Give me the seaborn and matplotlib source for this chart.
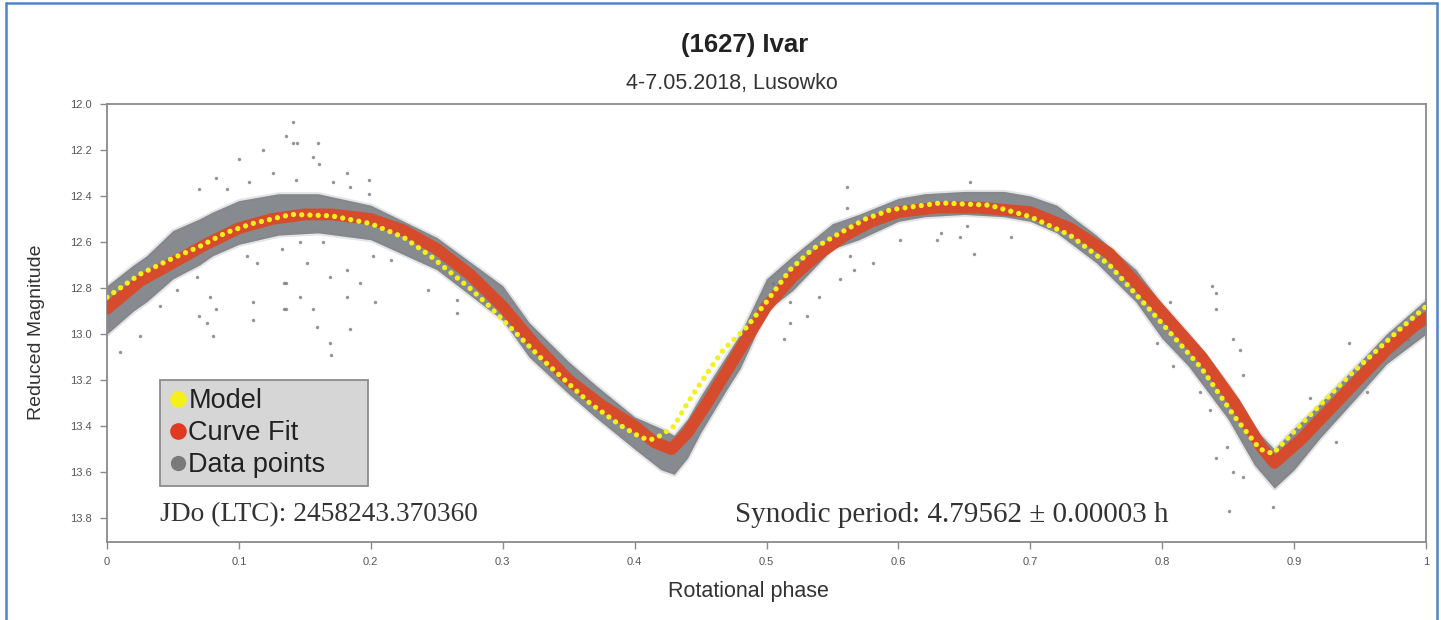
import numpy as np
import pandas as pd
import matplotlib
matplotlib.use("Agg")
import matplotlib.pyplot as plt
from matplotlib.lines import Line2D
import seaborn as sns

# ---------------- data ----------------
fit_phase = [0.00, 0.025, 0.05, 0.075, 0.10, 0.125, 0.15, 0.17, 0.20, 0.225, 0.25, 0.275,
             0.30, 0.325, 0.35, 0.375, 0.40, 0.415, 0.428, 0.44, 0.455, 0.47, 0.485, 0.50,
             0.52, 0.54, 0.56, 0.58, 0.60, 0.63, 0.66, 0.70, 0.73, 0.76, 0.79, 0.81, 0.83,
             0.855, 0.875, 0.885, 0.905, 0.925, 0.945, 0.97, 0.99, 1.00]
fit_mag = [12.89, 12.77, 12.69, 12.61, 12.54, 12.50, 12.48, 12.48, 12.50, 12.55, 12.63, 12.74,
           12.88, 13.05, 13.20, 13.31, 13.40, 13.47, 13.50, 13.43, 13.30, 13.16, 13.02, 12.88,
           12.75, 12.65, 12.57, 12.51, 12.47, 12.45, 12.45, 12.47, 12.54, 12.65, 12.84, 12.97, 13.10,
           13.30, 13.49, 13.56, 13.46, 13.34, 13.22, 13.07, 12.97, 12.93]

model_phase = [0.00, 0.025, 0.05, 0.07, 0.09, 0.11, 0.14, 0.17, 0.20, 0.225, 0.245, 0.275,
               0.29, 0.33, 0.366, 0.39, 0.405, 0.412, 0.42, 0.43, 0.44, 0.455, 0.467, 0.485,
               0.50, 0.518, 0.535, 0.556, 0.575, 0.594, 0.632, 0.669, 0.70, 0.73, 0.76, 0.79,
               0.81, 0.83, 0.855, 0.874, 0.884, 0.904, 0.942, 0.98, 1.00]
model_mag = [12.84, 12.74, 12.67, 12.62, 12.56, 12.52, 12.48, 12.486, 12.52, 12.58, 12.66, 12.80,
             12.88, 13.11, 13.30, 13.40, 13.45, 13.46, 13.44, 13.40, 13.30, 13.17, 13.07, 12.97,
             12.86, 12.72, 12.63, 12.56, 12.50, 12.46, 12.43, 12.44, 12.49, 12.57, 12.70, 12.89,
             13.02, 13.15, 13.36, 13.50, 13.52, 13.40, 13.18, 12.98, 12.88]

# dense band of data points: bright / faint envelope
band_phase = [0.00, 0.02, 0.03, 0.05, 0.07, 0.08, 0.10, 0.13, 0.16, 0.20, 0.25, 0.30, 0.32,
              0.35, 0.37, 0.40, 0.42, 0.43, 0.44, 0.45, 0.47, 0.48, 0.50, 0.52, 0.55, 0.57,
              0.60, 0.62, 0.65, 0.68, 0.70, 0.72, 0.75, 0.78, 0.80, 0.82, 0.85, 0.87, 0.885,
              0.90, 0.92, 0.95, 0.97, 1.00]
band_upper = [12.79, 12.70, 12.66, 12.55, 12.50, 12.47, 12.42, 12.39, 12.39, 12.44, 12.58, 12.79,
              12.95, 13.12, 13.22, 13.36, 13.41, 13.44, 13.37, 13.27, 13.09, 13.00, 12.76, 12.66,
              12.52, 12.48, 12.41, 12.39, 12.38, 12.38, 12.40, 12.44, 12.57, 12.72, 12.87, 13.00,
              13.22, 13.41, 13.50, 13.41, 13.30, 13.12, 13.00, 12.85]
band_lower = [13.00, 12.90, 12.86, 12.76, 12.70, 12.66, 12.61, 12.57, 12.56, 12.59, 12.72, 12.94,
              13.10, 13.26, 13.36, 13.50, 13.59, 13.61, 13.54, 13.43, 13.24, 13.15, 12.90, 12.81,
              12.63, 12.59, 12.51, 12.49, 12.48, 12.49, 12.51, 12.56, 12.69, 12.86, 13.02, 13.14,
              13.37, 13.57, 13.67, 13.59, 13.45, 13.26, 13.13, 13.00]

# scattered data points away from the band
out_phase = [0.010, 0.025, 0.040, 0.053, 0.068, 0.070, 0.078, 0.083, 0.076, 0.080, 0.111, 0.111,
             0.106, 0.134, 0.134, 0.114, 0.083, 0.100, 0.118, 0.136, 0.144, 0.091, 0.108, 0.126,
             0.070, 0.141, 0.141, 0.160, 0.156, 0.161, 0.182, 0.199, 0.143, 0.171, 0.184, 0.199,
             0.136, 0.136, 0.146, 0.152, 0.156, 0.159, 0.169, 0.169, 0.170, 0.182, 0.184, 0.182,
             0.192, 0.203, 0.202, 0.215, 0.243, 0.265, 0.265, 0.164, 0.146, 0.133,
             0.518, 0.531, 0.540, 0.556, 0.563, 0.566, 0.581, 0.601, 0.629, 0.647, 0.657, 0.685,
             0.518, 0.513, 0.652, 0.632, 0.561, 0.561, 0.654, 0.505,
             0.841, 0.838, 0.841, 0.859, 0.854, 0.861, 0.836, 0.849, 0.841, 0.854, 0.851, 0.861,
             0.884, 0.806, 0.796, 0.808, 0.829, 0.942, 0.955, 0.932, 0.912, 0.986]
out_mag = [13.08, 13.01, 12.88, 12.81, 12.75, 12.92, 12.84, 12.89, 12.95, 13.01, 12.86, 12.94,
           12.66, 12.78, 12.89, 12.69, 12.32, 12.24, 12.20, 12.14, 12.17, 12.37, 12.34, 12.30,
           12.37, 12.08, 12.17, 12.17, 12.23, 12.26, 12.30, 12.33, 12.33, 12.34, 12.36, 12.39,
           12.78, 12.89, 12.84, 12.69, 12.89, 12.97, 12.75, 13.04, 13.09, 12.72, 12.98, 12.84,
           12.78, 12.86, 12.66, 12.68, 12.81, 12.85, 12.91, 12.60, 12.60, 12.63,
           12.86, 12.92, 12.84, 12.76, 12.66, 12.72, 12.69, 12.59, 12.59, 12.58, 12.65, 12.58,
           12.95, 13.02, 12.53, 12.56, 12.45, 12.36, 12.34, 12.78,
           12.82, 12.79, 12.89, 13.07, 13.02, 13.18, 13.33, 13.49, 13.54, 13.60, 13.77, 13.62,
           13.75, 12.86, 13.04, 13.14, 13.25, 13.04, 13.25, 13.47, 13.28, 13.02]

x_ticks = [0, 0.1, 0.2, 0.3, 0.4, 0.5, 0.6, 0.7, 0.8, 0.9, 1.0]
x_ticklabels = ["0", "0.1", "0.2", "0.3", "0.4", "0.5", "0.6", "0.7", "0.8", "0.9", "1"]
y_ticks = [12.0, 12.2, 12.4, 12.6, 12.8, 13.0, 13.2, 13.4, 13.6, 13.8]
y_ticklabels = ["12.0", "12.2", "12.4", "12.6", "12.8", "13.0", "13.2", "13.4", "13.6", "13.8"]

title = "(1627) Ivar"
subtitle = "4-7.05.2018, Lusowko"
jd_text = "JDo (LTC): 2458243.370360"
period_text = "Synodic period: 4.79562 \u00b1 0.00003 h"
legend_labels = ["Model", "Curve Fit", "Data points"]

# ---------------- styling ----------------
sns.set_theme(style="white")
plt.rcParams["font.family"] = ["Liberation Sans", "DejaVu Sans"]

C_MODEL = "#f4f01c"
C_FIT = "#d64b2b"
C_DATA = "#777b80"
C_AXIS = "#8a8a8a"

W, H = 1441, 620
fig = plt.figure(figsize=(W / 100, H / 100), dpi=100)
fig.patch.set_facecolor("white")

L, R, T, B = 107, 1426, 104, 542
ax = fig.add_axes([L / W, 1 - B / H, (R - L) / W, (B - T) / H])

fit_df = pd.DataFrame({"phase": fit_phase, "mag": fit_mag})
model_df = pd.DataFrame({"phase": model_phase, "mag": model_mag})
out_df = pd.DataFrame({"phase": out_phase, "mag": out_mag})

# data points: soft halo + dense core + scattered points
ax.fill_between(band_phase, band_upper, band_lower, facecolor=C_DATA, edgecolor=C_DATA,
                alpha=0.2, lw=3, zorder=1)
ax.fill_between(band_phase, band_upper, band_lower, color=C_DATA, alpha=0.85, lw=0, zorder=1)
sns.scatterplot(data=out_df, x="phase", y="mag", ax=ax, color=C_DATA, s=6, linewidth=0,
                alpha=0.8, zorder=2, legend=False)

# curve fit
sns.lineplot(data=fit_df, x="phase", y="mag", ax=ax, sort=False, estimator=None,
             color=C_FIT, lw=8.5, zorder=3, legend=False)
ax.lines[-1].set_solid_joinstyle("round")
# model as dotted yellow
sns.lineplot(data=model_df, x="phase", y="mag", ax=ax, sort=False, estimator=None,
             color=C_MODEL, lw=3.8, zorder=4, legend=False)
ax.lines[-1].set_linestyle((0, (0.01, 1.55)))
ax.lines[-1].set_dash_capstyle("round")

ax.set_xlim(0, 1)
ax.set_ylim(13.904, 12.0)
ax.set_xticks(x_ticks)
ax.set_xticklabels(x_ticklabels)
ax.set_yticks(y_ticks)
ax.set_yticklabels(y_ticklabels)
ax.tick_params(axis="both", which="both", length=5, width=1, color=C_AXIS,
               labelsize=8, labelcolor="#555555", direction="out", pad=6)
ax.tick_params(bottom=True, left=True)
for s in ax.spines.values():
    s.set_color(C_AXIS)
    s.set_linewidth(1.3)
    s.set_visible(True)
ax.set_xlabel("")
ax.set_ylabel("")

# labels
fig.text(745 / W, 1 - 45 / H, title, ha="center", va="center", fontsize=18.5,
         fontweight="bold", color="#222222")
fig.text(732 / W, 1 - 83 / H, subtitle, ha="center", va="center", fontsize=15.5,
         color="#333333")
fig.text(748 / W, 1 - 592 / H, "Rotational phase", ha="center", va="center", fontsize=15.5,
         color="#333333")
fig.text(37 / W, 1 - 332 / H, "Reduced Magnitude", ha="center", va="center", fontsize=14,
         rotation=90, color="#333333")

ax.text((160 - L) / (R - L), 1 - (515 - T) / (B - T), jd_text, transform=ax.transAxes,
        ha="left", va="center", fontsize=19.7, family=["Liberation Serif", "DejaVu Serif"],
        color="#333333")
ax.text((735 - L) / (R - L), 1 - (515 - T) / (B - T), period_text, transform=ax.transAxes,
        ha="left", va="center", fontsize=21, family=["Liberation Serif", "DejaVu Serif"],
        color="#333333")

# legend
handles = [Line2D([], [], marker="o", ls="none", markersize=12, markerfacecolor=C_MODEL,
                  markeredgecolor="none"),
           Line2D([], [], marker="o", ls="none", markersize=12, markerfacecolor="#e03a22",
                  markeredgecolor="none"),
           Line2D([], [], marker="o", ls="none", markersize=11, markerfacecolor="#7a7a7a",
                  markeredgecolor="none")]
lx0 = (160 - L) / (R - L)
lx1 = (368 - L) / (R - L)
ly0 = 1 - (484 - T) / (B - T)
ly1 = 1 - (380 - T) / (B - T)
leg = ax.legend(handles, legend_labels, loc="upper left",
                bbox_to_anchor=(lx0, ly0, lx1 - lx0, ly1 - ly0), mode="expand",
                borderaxespad=0, frameon=True, fancybox=False, fontsize=19.5,
                handlelength=0.7, handletextpad=0.05, labelspacing=0.22,
                borderpad=0.3, facecolor="#d6d6d6", edgecolor="#8c8c8c", framealpha=1)
leg.get_frame().set_linewidth(1.3)
for t in leg.get_texts():
    t.set_color("#222222")
leg.set_zorder(10)

# blue screenshot frame
blue = "#4a86c8"
fig.add_artist(Line2D([6 / W, 6 / W], [0, 1 - 3 / H], transform=fig.transFigure, color=blue, lw=1.8))
fig.add_artist(Line2D([6 / W, 1437 / W], [1 - 3 / H, 1 - 3 / H], transform=fig.transFigure, color=blue, lw=1.8))
fig.add_artist(Line2D([1437 / W, 1437 / W], [0, 1 - 3 / H], transform=fig.transFigure, color=blue, lw=1.8))

fig.savefig("out.png", dpi=100, facecolor="white")
